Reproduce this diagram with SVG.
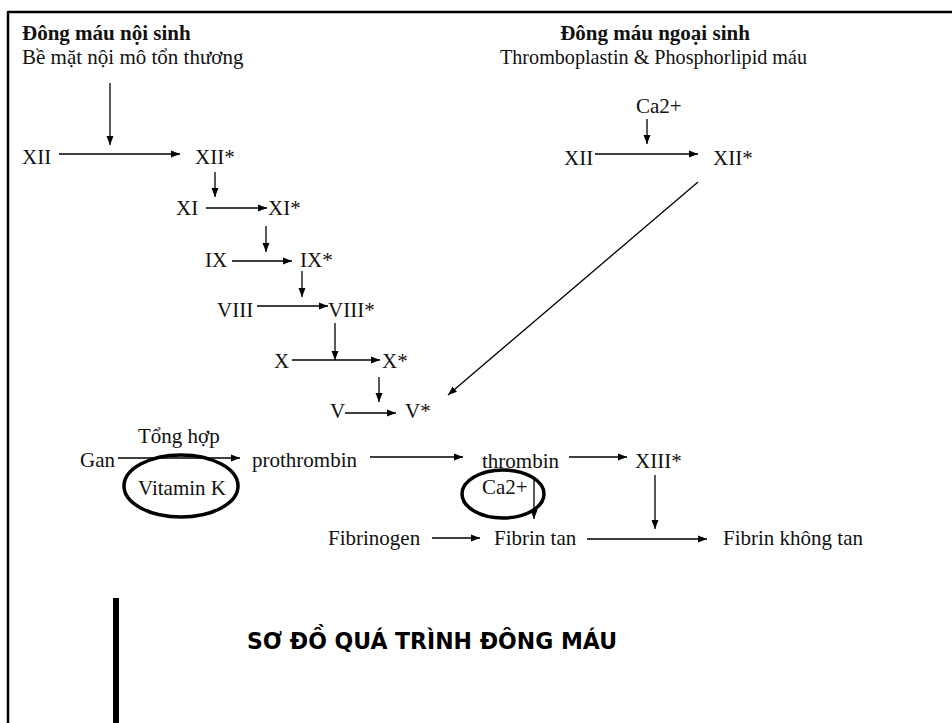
<svg xmlns="http://www.w3.org/2000/svg" width="952" height="723" viewBox="0 0 952 723">
<defs>
<marker id="ah" markerUnits="userSpaceOnUse" markerWidth="9" markerHeight="8" refX="9" refY="4" orient="auto">
<path d="M0,0.5 L9,4 L0,7.5 z" fill="#000"/>
</marker>
<style>
.t{font-family:"Liberation Serif","Times New Roman","DejaVu Serif",serif;font-size:21px;fill:#111}
.b{font-weight:bold}
.c line{stroke:#000;stroke-width:1.3;marker-end:url(#ah)}
.e{fill:none;stroke:#000;stroke-width:3.5}
</style>
</defs>
<rect width="952" height="723" fill="#fff"/>
<g id="frame">
<line x1="8" y1="12" x2="952" y2="12" stroke="#000" stroke-width="2.5"/>
<line x1="8" y1="11" x2="8" y2="723" stroke="#000" stroke-width="2.5"/>
<rect x="113" y="598" width="6" height="125" fill="#000"/>
</g>
<g id="headers">
<text class="t b" x="22" y="40">Đông máu nội sinh</text>
<text class="t" x="22" y="64">Bề mặt nội mô tổn thương</text>
<text class="t b" x="655" y="40" text-anchor="middle">Đông máu ngoại sinh</text>
<text class="t" x="500" y="64" textLength="307" lengthAdjust="spacingAndGlyphs">Thromboplastin &amp; Phosphorlipid máu</text>
</g>
<g id="n-xii"><text class="t" x="22" y="164">XII</text></g>
<g id="n-xiia"><text class="t" x="195" y="164">XII*</text></g>
<g id="n-xi"><text class="t" x="176" y="215">XI</text></g>
<g id="n-xia"><text class="t" x="268" y="215">XI*</text></g>
<g id="n-ix"><text class="t" x="205" y="267">IX</text></g>
<g id="n-ixa"><text class="t" x="300" y="267">IX*</text></g>
<g id="n-viii"><text class="t" x="217" y="317">VIII</text></g>
<g id="n-viiia"><text class="t" x="328" y="317">VIII*</text></g>
<g id="n-x"><text class="t" x="274" y="368">X</text></g>
<g id="n-xa"><text class="t" x="382" y="368">X*</text></g>
<g id="n-v"><text class="t" x="330" y="418">V</text></g>
<g id="n-va"><text class="t" x="405" y="418">V*</text></g>
<g id="n-ca1"><text class="t" x="636" y="113">Ca2+</text></g>
<g id="n-xii2"><text class="t" x="564" y="165">XII</text></g>
<g id="n-xii2a"><text class="t" x="713" y="165">XII*</text></g>
<g id="n-tonghop"><text class="t" x="138" y="443">Tổng hợp</text></g>
<g id="n-gan"><text class="t" x="80" y="467">Gan</text></g>
<g id="n-vitk"><ellipse class="e" cx="181" cy="486" rx="57" ry="31"/><text class="t" x="138" y="495">Vitamin K</text></g>
<g id="n-prothrombin"><text class="t" x="252" y="467">prothrombin</text></g>
<g id="n-thrombin"><text class="t" x="482" y="468">thrombin</text></g>
<g id="n-ca2"><ellipse class="e" cx="503" cy="494" rx="41" ry="24"/><text class="t" x="482" y="494">Ca2+</text></g>
<g id="n-xiii"><text class="t" x="635" y="468">XIII*</text></g>
<g id="n-fibrinogen"><text class="t" x="328" y="545">Fibrinogen</text></g>
<g id="n-fibrintan"><text class="t" x="494" y="545">Fibrin tan</text></g>
<g id="n-fibrinkt"><text class="t" x="723" y="545">Fibrin không tan</text></g>
<g id="title"><text x="247" y="649" font-family="'DejaVu Sans',Verdana,sans-serif" font-weight="bold" font-size="23" textLength="370" lengthAdjust="spacingAndGlyphs" fill="#000">SƠ ĐỒ QUÁ TRÌNH ĐÔNG MÁU</text></g>
<g id="connectors" class="c">
<line x1="110" y1="83" x2="110" y2="145"/>
<line x1="59" y1="154" x2="180" y2="154"/>
<line x1="215" y1="172" x2="215" y2="197"/>
<line x1="206" y1="208" x2="267" y2="208"/>
<line x1="266" y1="226" x2="266" y2="252"/>
<line x1="232" y1="261" x2="292" y2="261"/>
<line x1="302" y1="271" x2="302" y2="297"/>
<line x1="257" y1="306" x2="328" y2="306"/>
<line x1="335" y1="323" x2="335" y2="360"/>
<line x1="292" y1="360" x2="380" y2="360"/>
<line x1="379" y1="377" x2="379" y2="402"/>
<line x1="345" y1="413" x2="396" y2="413"/>
<line x1="698" y1="182" x2="448" y2="395"/>
<line x1="647" y1="119" x2="647" y2="144"/>
<line x1="595" y1="154" x2="698" y2="154"/>
<line x1="118" y1="458" x2="240" y2="458"/>
<line x1="370" y1="457" x2="463" y2="457"/>
<line x1="569" y1="457" x2="627" y2="457"/>
<line x1="655" y1="475" x2="655" y2="529"/>
<line x1="534" y1="478" x2="534" y2="519"/>
<line x1="432" y1="538" x2="480" y2="538"/>
<line x1="587" y1="539" x2="707" y2="539"/>
</g>
</svg>
